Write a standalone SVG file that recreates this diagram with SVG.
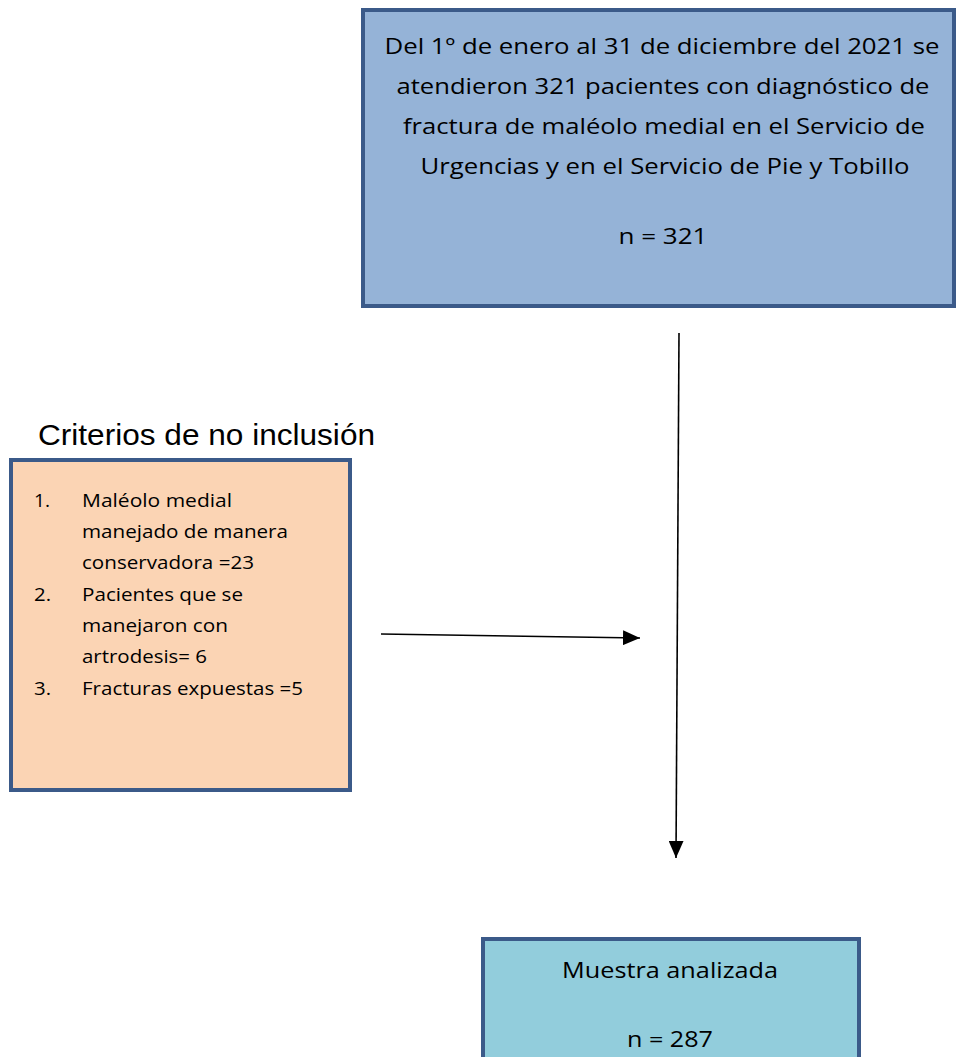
<svg xmlns="http://www.w3.org/2000/svg" width="956" height="1057" viewBox="0 0 956 1057">
<style>
.box{stroke:#3B5A89;stroke-width:4}
.t{font-family:"Open Sans","Liberation Sans",Arial,sans-serif;fill:#000}
.h{font-family:"Liberation Sans",Arial,sans-serif;fill:#000}
.c{font-size:22px;text-anchor:middle}
.l{font-size:18.5px}
.conn{stroke:#000;stroke-width:1.6;fill:none}
</style>
<defs>
<marker id="ah2" viewBox="0 0 16 14" refX="16" refY="7" markerWidth="17" markerHeight="15" markerUnits="userSpaceOnUse" orient="auto">
<path d="M0,0 L16,7 L0,14 Z" fill="#000"/>
</marker>
</defs>
<rect width="956" height="1057" fill="#fff"/>
<g id="node-top">
<rect class="box" x="363" y="10" width="591" height="296" fill="#95B3D7"/>
<text class="t c" x="662" y="54" textLength="555" lengthAdjust="spacingAndGlyphs">Del 1º de enero al 31 de diciembre del 2021 se</text>
<text class="t c" x="663" y="94" textLength="533" lengthAdjust="spacingAndGlyphs">atendieron 321 pacientes con diagnóstico de</text>
<text class="t c" x="664" y="134" textLength="522" lengthAdjust="spacingAndGlyphs">fractura de maléolo medial en el Servicio de</text>
<text class="t c" x="665" y="174" textLength="489" lengthAdjust="spacingAndGlyphs">Urgencias y en el Servicio de Pie y Tobillo</text>
<text class="t c" x="663" y="244" textLength="89" lengthAdjust="spacingAndGlyphs">n = 321</text>
</g>
<g id="node-criterios">
<text class="h" x="38" y="445" font-size="29" textLength="337" lengthAdjust="spacingAndGlyphs">Criterios de no inclusión</text>
<rect class="box" x="11" y="460" width="339" height="330" fill="#FBD4B4"/>
<text class="t l" x="34" y="507" textLength="16" lengthAdjust="spacingAndGlyphs">1.</text>
<text class="t l" x="82" y="507" textLength="150" lengthAdjust="spacingAndGlyphs">Maléolo medial</text>
<text class="t l" x="82" y="538" textLength="206" lengthAdjust="spacingAndGlyphs">manejado de manera</text>
<text class="t l" x="82" y="569" textLength="172" lengthAdjust="spacingAndGlyphs">conservadora =23</text>
<text class="t l" x="34" y="601" textLength="17" lengthAdjust="spacingAndGlyphs">2.</text>
<text class="t l" x="82" y="601" textLength="161" lengthAdjust="spacingAndGlyphs">Pacientes que se</text>
<text class="t l" x="82" y="632" textLength="146" lengthAdjust="spacingAndGlyphs">manejaron con</text>
<text class="t l" x="82" y="663" textLength="125" lengthAdjust="spacingAndGlyphs">artrodesis= 6</text>
<text class="t l" x="34" y="695" textLength="17" lengthAdjust="spacingAndGlyphs">3.</text>
<text class="t l" x="82" y="695" textLength="221" lengthAdjust="spacingAndGlyphs">Fracturas expuestas =5</text>
</g>
<g id="node-muestra">
<rect class="box" x="483" y="939" width="376" height="130" fill="#92CDDC"/>
<text class="t c" x="670" y="978" textLength="216" lengthAdjust="spacingAndGlyphs">Muestra analizada</text>
<text class="t c" x="670" y="1047" textLength="86" lengthAdjust="spacingAndGlyphs">n = 287</text>
</g>
<g id="connectors">
<line class="conn" x1="381" y1="634" x2="640" y2="638" marker-end="url(#ah2)"/>
<line class="conn" x1="679" y1="333" x2="676" y2="858" marker-end="url(#ah2)"/>
</g>
</svg>
